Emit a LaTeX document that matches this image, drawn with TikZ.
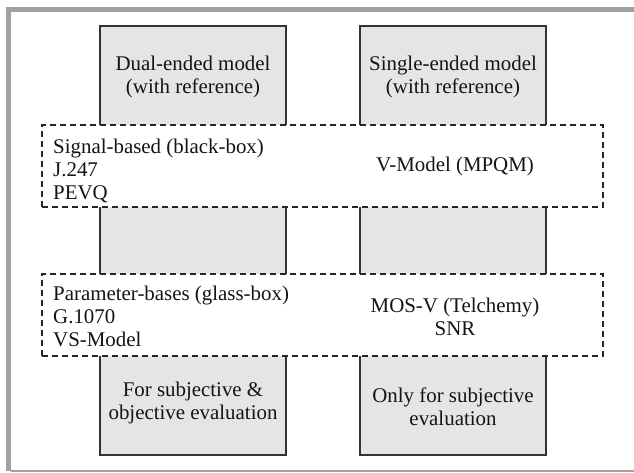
\documentclass[tikz,border=0pt]{standalone}
\usepackage{fontspec}
\setmainfont{Liberation Serif}
\begin{document}
\begin{tikzpicture}[x=1pt,y=-1pt,
  framecol/.style={draw=black!37},
  colbox/.style={draw=black!80, line width=1.3pt, fill=black!10, minimum width=186pt, minimum height=429pt, inner sep=0pt},
  dashbox/.style={draw=black!85, line width=1.1pt, dash pattern=on 6pt off 4pt, fill=white, minimum width=561pt, minimum height=82pt, inner sep=0pt},
  txt/.style={text=black!92, font=\fontsize{20.9}{23}\selectfont, inner sep=0pt},
  ctxt/.style={txt, align=center},
  ltxt/.style={txt, align=left, anchor=west}]
\useasboundingbox (0,0) rectangle (634,472);
\fill[white] (0,0) rectangle (634,472);
% frame
\draw[framecol, line width=5pt] (8.5,471) -- (8.5,9.5) -- (634,9.5);
\draw[framecol, line width=1.2pt] (11,471) -- (634,471);
% columns
\node[colbox] (dual) at (193,240.5) {};
\node[colbox] (single) at (453,240.5) {};
% dashed bands
\node[dashbox] (signal) at (322.5,166) {};
\node[dashbox] (param) at (322.5,315) {};
% texts
\node[ctxt] (dualt) at (193,77) {Dual-ended model\\(with reference)};
\node[ctxt] (singlet) at (453,77) {Single-ended model\\(with reference)};
\node[ltxt] (sigt) at (53,171) {Signal-based (black-box)\\J.247\\PEVQ};
\node[ctxt] (vmod) at (455,166) {V-Model (MPQM)};
\node[ltxt] (part) at (53,316) {Parameter-bases (glass-box)\\G.1070\\VS-Model};
\node[ctxt] (mosv) at (455,317) {MOS-V (Telchemy)\\SNR};
\node[ctxt] (fort) at (193,403) {For subjective \&\\objective evaluation};
\node[ctxt] (onlyt) at (453,407) {Only for subjective\\evaluation};
\end{tikzpicture}
\end{document}
